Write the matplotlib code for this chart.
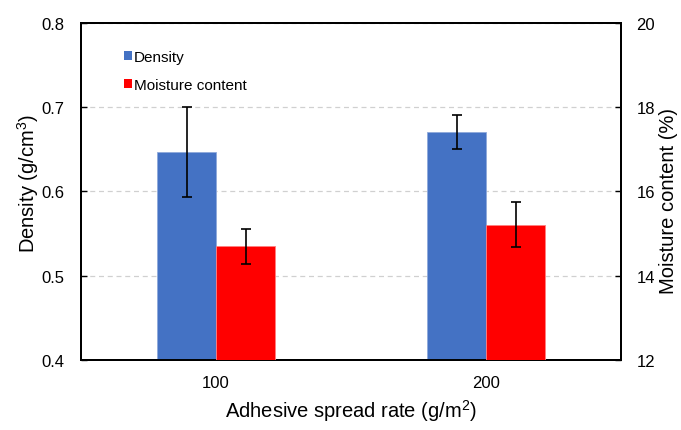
import numpy as np
import matplotlib.pyplot as plt
from matplotlib.patches import Patch

plt.rcParams['font.family'] = ['Liberation Sans', 'DejaVu Sans']
plt.rcParams['mathtext.fontset'] = 'custom'
plt.rcParams['mathtext.rm'] = 'Liberation Sans'

# spread rates and measured properties
rates = ['100', '200']
density = [0.647, 0.671]
density_err = [0.053, 0.020]
moisture = [14.70, 15.21]
moisture_err = [0.42, 0.53]

blue = '#4472C4'
red = '#FF0000'

fig = plt.figure(figsize=(6.81, 4.31), dpi=100)
ax = fig.add_axes([0.119, 0.1624, 0.793, 0.782])
ax2 = ax.twinx()

x = np.arange(len(rates))
w = 0.2185

ax.bar(x - w / 2, density, w, color=blue, edgecolor='#8EA9DB', linewidth=0.6, zorder=3)
ax.errorbar(x - w / 2, density, yerr=density_err, fmt='none', ecolor='black',
            elinewidth=1.2, capsize=3.5, capthick=1.2, zorder=4)
ax2.bar(x + w / 2, moisture, w, color=red, edgecolor='#FF8080', linewidth=0.6, zorder=3)
ax2.errorbar(x + w / 2, moisture, yerr=moisture_err, fmt='none', ecolor='black',
             elinewidth=1.2, capsize=3.5, capthick=1.2, zorder=4)

ax.set_xlim(-0.5, 1.5)
ax.set_ylim(0.4, 0.8)
ax.set_yticks([0.4, 0.5, 0.6, 0.7, 0.8])
ax2.set_ylim(12, 20)
ax2.set_yticks([12, 14, 16, 18, 20])

ax.yaxis.grid(True, linestyle=(0, (4, 3)), color='#D0D0D0', linewidth=0.9, zorder=0)
ax.set_axisbelow(True)

ax.set_xticks(x)
ax.set_xticklabels(rates)
ax.tick_params(axis='x', length=0, pad=11, labelsize=12)
ax.tick_params(axis='y', direction='in', length=4, width=1, pad=12, labelsize=12)
ax2.tick_params(axis='y', direction='in', length=4, width=1, pad=11, labelsize=12)

for a in (ax, ax2):
    for s in a.spines.values():
        s.set_linewidth(1.4)
        s.set_color('black')

ax.set_ylabel('Density (g/cm$^{3}$)', fontsize=14.5)
ax2.set_ylabel('Moisture content (%)', fontsize=14.5)
ax.yaxis.set_label_coords(-0.074, 0.528)
ax2.yaxis.set_label_coords(1.07, 0.475)
ax.set_xlabel('Adhesive spread rate (g/m$^{2}$)', fontsize=14.5, labelpad=5)

handles = [Patch(facecolor=blue, label='Density'),
           Patch(facecolor=red, label='Moisture content')]
ax2.legend(handles=handles, loc='upper left', bbox_to_anchor=(0.08, 0.92),
           frameon=False, fontsize=11, handlelength=0.5, handleheight=0.5,
           handletextpad=0.15, labelspacing=0.9, borderpad=0, borderaxespad=0)

fig.savefig('out.png', dpi=100)
